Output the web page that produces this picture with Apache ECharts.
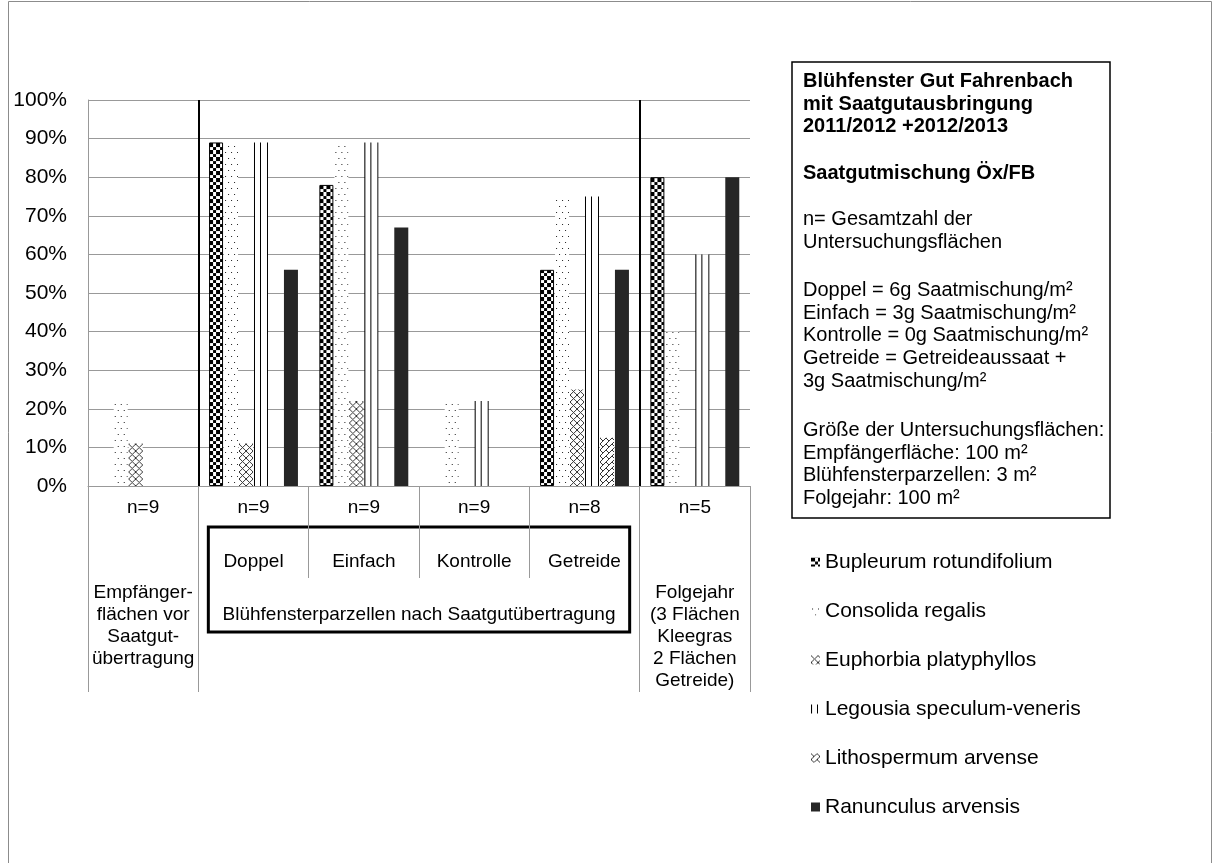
<!DOCTYPE html>
<html>
<head>
<meta charset="utf-8">
<script src="https://cdn.jsdelivr.net/npm/echarts@6/dist/echarts.min.js"></script>
<style>
html,body{margin:0;padding:0;background:#fff;}
#c{width:1213px;height:863px;}
</style>
</head>
<body>
<div id="c"></div>
<script>
// ---- data ----
const categories = ['Empfänger', 'Doppel', 'Einfach', 'Kontrolle', 'Getreide', 'Folgejahr'];
const nLabels = ['n=9', 'n=9', 'n=9', 'n=9', 'n=8', 'n=5'];
const catLines = [
  ['Empfänger-', 'flächen vor', 'Saatgut-', 'übertragung'],
  ['Doppel'],
  ['Einfach'],
  ['Kontrolle'],
  ['Getreide'],
  ['Folgejahr', '(3 Flächen', 'Kleegras', '2 Flächen', 'Getreide)']
];
const groupLabel = 'Blühfensterparzellen nach Saatgutübertragung';
const seriesNames = ['Bupleurum rotundifolium', 'Consolida regalis', 'Euphorbia platyphyllos',
  'Legousia speculum-veneris', 'Lithospermum arvense', 'Ranunculus arvensis'];
const bupleurum    = [0, 89, 78, 0, 56, 80];
const consolida    = [22, 89, 89, 22, 75, 40];
const euphorbia    = [11, 11, 22, 0, 25, 0];
const legousia     = [0, 89, 89, 22, 75, 60];
const lithospermum = [0, 0, 0, 0, 12.5, 0];
const ranunculus   = [0, 56, 67, 0, 56, 80];
const yTicks = [0, 10, 20, 30, 40, 50, 60, 70, 80, 90, 100];
const infoTitle = ['Blühfenster Gut Fahrenbach', 'mit Saatgutausbringung', '2011/2012 +2012/2013'];
const infoMix = ['Saatgutmischung Öx/FB'];
const infoN = ['n= Gesamtzahl der', 'Untersuchungsflächen'];
const infoDef = ['Doppel = 6g Saatmischung/m²', 'Einfach = 3g Saatmischung/m²', 'Kontrolle = 0g Saatmischung/m²',
  'Getreide = Getreideaussaat +', '3g Saatmischung/m²'];
const infoSize = ['Größe der Untersuchungsflächen:', 'Empfängerfläche: 100 m²', 'Blühfensterparzellen: 3 m²', 'Folgejahr: 100 m²'];

// ---- patterns ----
function canv(w, h, draw) {
  const c = document.createElement('canvas');
  c.width = w; c.height = h;
  const g = c.getContext('2d');
  g.fillStyle = '#fff'; g.fillRect(0, 0, w, h);
  draw(g);
  return c;
}
const cBup = canv(7, 7, g => { g.fillStyle = '#000'; g.fillRect(0, 0, 4, 4); g.fillRect(4, 4, 3, 3); g.fillRect(0, 4, 0, 0); });
const cCon = canv(6, 12, g => { g.fillStyle = '#222'; g.fillRect(1, 2, 1, 1); g.fillRect(4, 8, 1, 1); });
const cEup = canv(7, 7, g => { g.strokeStyle = '#333'; g.lineWidth = 1; g.beginPath(); g.moveTo(0, 0); g.lineTo(7, 7); g.moveTo(7, 0); g.lineTo(0, 7); g.stroke(); });
const cLeg = canv(14, 2, g => { g.fillStyle = '#000'; g.fillRect(0, 0, 1, 2); g.fillRect(6, 0, 1, 2); g.fillRect(13, 0, 1, 2); });
const cLit = canv(6, 6, g => { g.strokeStyle = '#333'; g.lineWidth = 1; g.beginPath(); g.moveTo(0, 6); g.lineTo(6, 0); g.moveTo(0, 0); g.lineTo(3, 3); g.stroke(); });
const canvases = [cBup, cCon, cEup, cLeg, cLit, null];
const colors = canvases.map(c => c ? { image: c, repeat: 'repeat' } : '#262626');
const values = [bupleurum, consolida, euphorbia, legousia, lithospermum, ranunculus];

const FONT = '"Liberation Sans", Arial, sans-serif';
const chart = echarts.init(document.getElementById('c'), null, { renderer: 'canvas' });

function buildSeries(itemStyles) {
  const s = seriesNames.map((name, i) => ({
    name, type: 'bar', xAxisIndex: 0, yAxisIndex: 0,
    data: values[i].map((v, j) => itemStyles ? { value: v, itemStyle: itemStyles[i][j] } : v),
    barWidth: 14, barGap: '7%',
    itemStyle: { color: colors[i] },
    animation: false
  }));
  s.push({
    name: 'sep', type: 'line', xAxisIndex: 1, yAxisIndex: 0, data: [],
    markLine: {
      silent: true, symbol: ['none', 'none'], label: { show: false },
      lineStyle: { color: '#000', width: 2, type: 'solid' },
      data: [{ xAxis: 1 }, { xAxis: 5 }], animation: false
    }
  });
  return s;
}

chart.setOption({
  animation: false,
  textStyle: { fontFamily: FONT },
  grid: { left: 88, right: 463, top: 100, bottom: 377, containLabel: false },
  legend: {
    data: seriesNames, orient: 'vertical', left: 811, top: 550, padding: 0,
    itemWidth: 9, itemHeight: 9, itemGap: 25, icon: 'rect',
    textStyle: { fontSize: 21, lineHeight: 24, color: '#000', fontFamily: FONT }
  },
  xAxis: [
    {
      type: 'category', data: categories, position: 'bottom',
      axisLine: { lineStyle: { color: '#999' } },
      axisTick: { show: false },
      axisLabel: {
        interval: 0, margin: 11, color: '#000',
        formatter: (v, idx) => {
          const lines = catLines[idx];
          const gap = lines.length > 1 ? 'g2' : 'g1';
          return '{n|' + nLabels[idx] + '}\n{' + gap + '| }\n' + lines.map(l => '{t|' + l + '}').join('\n');
        },
        rich: {
          n: { fontSize: 19, lineHeight: 22, fontFamily: FONT, color: '#000', align: 'center' },
          g1: { fontSize: 10, lineHeight: 32 },
          g2: { fontSize: 10, lineHeight: 63 },
          t: { fontSize: 19, lineHeight: 22, fontFamily: FONT, color: '#000', align: 'center' }
        }
      }
    },
    {
      type: 'value', min: 0, max: 6, interval: 1, position: 'bottom',
      axisLine: { show: false }, axisLabel: { show: false }, splitLine: { show: false },
      axisTick: { show: true, customValues: [0, 1, 5, 6], length: 206, lineStyle: { color: '#999' } }
    },
    {
      type: 'value', min: 0, max: 6, interval: 1, position: 'bottom',
      axisLine: { show: false }, axisLabel: { show: false }, splitLine: { show: false },
      axisTick: { show: true, customValues: [2, 3, 4], length: 92, lineStyle: { color: '#999' } }
    }
  ],
  yAxis: {
    type: 'value', min: yTicks[0], max: yTicks[yTicks.length - 1], interval: 10,
    axisLine: { show: true, lineStyle: { color: '#999' } },
    axisTick: { show: false },
    splitLine: { lineStyle: { color: '#999' } },
    axisLabel: { formatter: '{value}%', fontSize: 21, color: '#000', margin: 21, fontFamily: FONT }
  },
  series: buildSeries(null)
});

// align patterns to each bar's left/bottom edge, using the library's own bar layout
try {
  const model = chart.getModel();
  const styles = seriesNames.map((n, i) => {
    const data = model.getSeriesByIndex(i).getData();
    return values[i].map((v, j) => {
      const lay = data.getItemLayout(j);
      if (!canvases[i] || !lay) return {};
      const st = { color: { image: canvases[i], repeat: 'repeat', x: lay.x, y: lay.y } };
      if (i === 0 && v > 0) { st.borderColor = '#000'; st.borderWidth = 1; }
      return st;
    });
  });
  chart.setOption({ series: buildSeries(styles) });
} catch (e) {}

const px = v => chart.convertToPixel({ xAxisIndex: 1 }, v);
const y0 = chart.convertToPixel({ yAxisIndex: 0 }, 0);
function textBlock(lines, x, yTop, bold) {
  return {
    type: 'text', x, y: yTop, silent: true,
    style: {
      text: lines.join('\n'), fill: '#000',
      font: (bold ? 'bold ' : '') + '20px ' + FONT,
      lineHeight: 22.7, align: 'left', verticalAlign: 'top'
    }
  };
}
chart.setOption({
  graphic: [
    { type: 'rect', silent: true, shape: { x: 8.5, y: 1.5, width: 1203, height: 900 }, style: { fill: 'none', stroke: '#8c8c8c', lineWidth: 1 } },
    { type: 'rect', silent: true, shape: { x: px(1) + 10, y: y0 + 41, width: px(5) - px(1) - 20, height: 105 }, style: { fill: 'none', stroke: '#000', lineWidth: 3 } },
    { type: 'text', silent: true, x: (px(1) + px(5)) / 2, y: y0 + 129, style: { text: groupLabel, font: '19px ' + FONT, fill: '#000', align: 'center', verticalAlign: 'middle' } },
    { type: 'rect', silent: true, shape: { x: 792, y: 62, width: 318, height: 456 }, style: { fill: '#fff', stroke: '#000', lineWidth: 1.5 } },
    textBlock(infoTitle, 803, 70, true),
    textBlock(infoMix, 803, 162, true),
    textBlock(infoN, 803, 208, false),
    textBlock(infoDef, 803, 279, false),
    textBlock(infoSize, 803, 419, false)
  ]
});
</script>
</body>
</html>
